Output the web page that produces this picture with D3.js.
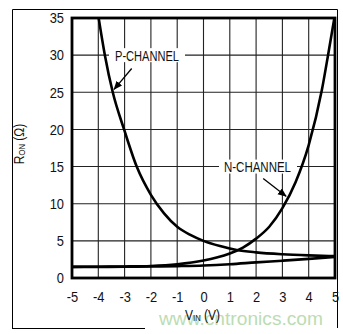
<!DOCTYPE html>
<html><head><meta charset="utf-8">
<script src="https://cdn.jsdelivr.net/npm/d3@7"></script>
<style>
html,body{margin:0;padding:0;background:#fff;}
text{font-family:"Liberation Sans",Arial,sans-serif;}
</style></head>
<body>
<svg id="c" width="343" height="334"></svg>
<script>
// ---- data ----
const xTicks = [-5,-4,-3,-2,-1,0,1,2,3,4,5];
const yTicks = [0,5,10,15,20,25,30,35];
const pChanV = [-4.0,-3.75,-3.45,-3.02,-2.54,-2.0,-1.5,-1.0,-0.5,0,0.63,1.26,2,3,4,5];
const pChanR = [35.3,30,25,20,15,11.2,8.7,6.9,5.8,5.0,4.3,3.77,3.45,3.2,3.05,2.95];
const nChanV = [-5,-4,-3,-2,-1,0,0.5,1,1.5,2,2.5,3,3.5,4,4.5,4.75,5];
const nChanR = [1.5,1.52,1.55,1.62,1.85,2.35,2.75,3.3,4.1,5.3,6.9,9.4,12.9,17.9,25.3,30.3,35.5];
const parV = [-5,-4,-3,-2,-1,0,1,2,3,4,5];
const parR = [1.5,1.5,1.52,1.55,1.6,1.68,1.85,2.1,2.33,2.57,2.82];
const pLabel = "P-CHANNEL", nLabel = "N-CHANNEL";
const xTitle = ["V","IN"," (V)"], yTitle = ["R","ON"," (Ω)"];
const watermark = "www.cntronics.com";

// ---- layout ----
const svg = d3.select("#c");
const L=72, R=335, T=18, B=278;
const x = d3.scaleLinear().domain([-5,5]).range([L,R]);
const y = d3.scaleLinear().domain([0,35]).range([B,T]);
const SX = 0.86;

// outer frame
svg.append("path").attr("d","M12.5,328 L12.5,9.5 L337.5,9.5 L337.5,328")
  .attr("fill","none").attr("stroke","#000").attr("stroke-width",1);
svg.append("line").attr("x1",12).attr("x2",145).attr("y1",328.5).attr("y2",328.5)
  .attr("stroke","#000").attr("stroke-width",1);

// grid
const g = svg.append("g");
g.selectAll(".vx").data(xTicks).join("line")
  .attr("x1",d=>x(d)).attr("x2",d=>x(d)).attr("y1",T).attr("y2",B)
  .attr("stroke","#222").attr("stroke-width",1.1);
g.selectAll(".hy").data(yTicks).join("line")
  .attr("x1",L).attr("x2",R).attr("y1",d=>y(d)).attr("y2",d=>y(d))
  .attr("stroke","#222").attr("stroke-width",1.1);

// tick labels via d3 axes (no lines)
const xAxis = svg.append("g").attr("transform",`translate(0,${B})`)
  .call(d3.axisBottom(x).tickValues(xTicks).tickSize(0).tickPadding(13).tickFormat(d=>String(d)));
xAxis.select(".domain").remove();
xAxis.attr("font-family",null);
xAxis.selectAll("text").attr("font-size",15).attr("fill","#111")
  .attr("transform",`scale(${SX},1)`).attr("x",0);
const yAxis = svg.append("g").attr("transform",`translate(${L},0)`)
  .call(d3.axisLeft(y).tickValues(yTicks).tickSize(0).tickPadding(8).tickFormat(d=>String(d)));
yAxis.select(".domain").remove();
yAxis.attr("font-family",null);
yAxis.selectAll("text").attr("font-size",15).attr("fill","#111")
  .attr("transform",`scale(${SX},1)`).attr("x",-8/SX);

// curves
svg.append("clipPath").attr("id","pc").append("rect")
  .attr("x",L).attr("y",T).attr("width",R-L).attr("height",B-T);
const line = d3.line().x(d=>x(d[0])).y(d=>y(d[1])).curve(d3.curveMonotoneX);
const curves = [d3.zip(pChanV,pChanR), d3.zip(nChanV,nChanR), d3.zip(parV,parR)];
svg.append("g").attr("clip-path","url(#pc)").selectAll("path").data(curves).join("path")
  .attr("d",line).attr("fill","none").attr("stroke","#000").attr("stroke-width",2.6);

// plot border
svg.append("rect").attr("x",L).attr("y",T).attr("width",R-L).attr("height",B-T)
  .attr("fill","none").attr("stroke","#000").attr("stroke-width",2.8);

// annotations
function label(txt, x0, x1, gx0, gx1, cy){
  svg.append("rect").attr("x",gx0).attr("y",cy-7).attr("width",gx1-gx0).attr("height",14).attr("fill","#fff");
  svg.append("text").attr("x",x0).attr("y",cy+5.5)
    .attr("textLength",x1-x0).attr("lengthAdjust","spacingAndGlyphs")
    .attr("font-size",15).attr("fill","#111").text(txt);
}
label(pLabel, 115, 179, 109, 185, y(30));
label(nLabel, 224, 291, 219, 297, y(15));

svg.append("defs").append("marker").attr("id","ah").attr("viewBox","0 0 10 10")
  .attr("refX",9).attr("refY",5).attr("markerWidth",9).attr("markerHeight",9)
  .attr("orient","auto").attr("markerUnits","userSpaceOnUse")
  .append("path").attr("d","M0,1 L10,5 L0,9 Z").attr("fill","#000");
function arrow(v0,r0,v1,r1){
  svg.append("line").attr("x1",x(v0)).attr("y1",y(r0)).attr("x2",x(v1)).attr("y2",y(r1))
    .attr("stroke","#000").attr("stroke-width",1.3).attr("marker-end","url(#ah)");
}
arrow(-2.73,28.2,-3.4,25.4);
arrow(2.27,13.4,3.14,11.0);

// watermark
svg.append("text").attr("x",159).attr("y",325)
  .attr("textLength",164).attr("lengthAdjust","spacingAndGlyphs")
  .attr("font-size",18).attr("fill","#bcdcb3").text(watermark);

// axis titles
const xt = svg.append("text").attr("x",185).attr("y",320)
  .attr("font-size",14).attr("fill","#111").attr("transform","translate(185,0) scale(0.86,1) translate(-185,0)");
xt.append("tspan").text(xTitle[0]);
xt.append("tspan").attr("font-size",9).attr("dy",1).text(xTitle[1]);
xt.append("tspan").attr("dy",-1).text(xTitle[2]);

const yt = svg.append("text").attr("transform","translate(24,144) rotate(-90) scale(0.86,1)")
  .attr("text-anchor","middle").attr("font-size",14).attr("fill","#111");
yt.append("tspan").text(yTitle[0]);
yt.append("tspan").attr("font-size",9).attr("dy",1).text(yTitle[1]);
yt.append("tspan").attr("dy",-1).text(yTitle[2]);
</script>
</body></html>
